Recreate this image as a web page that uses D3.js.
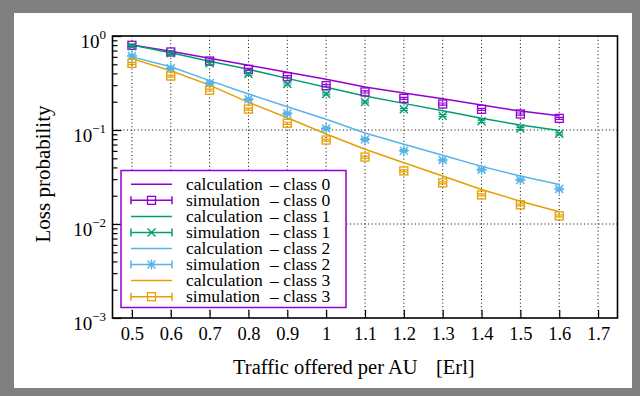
<!DOCTYPE html>
<html><head><meta charset="utf-8">
<script src="https://cdn.jsdelivr.net/npm/d3@7"></script>
<style>
html,body{margin:0;padding:0;background:#fff;}
svg{display:block;}
text{font-family:"Liberation Serif","Times New Roman",serif;fill:#000;}
</style></head>
<body>
<svg id="c" width="640" height="396"></svg>
<script>
// ---- data ----
const xValues = [0.5,0.6,0.7,0.8,0.9,1.0,1.1,1.2,1.3,1.4,1.5,1.6];
const xTicks = [0.5,0.6,0.7,0.8,0.9,1.0,1.1,1.2,1.3,1.4,1.5,1.6,1.7];
const xTickLabels = ["0.5","0.6","0.7","0.8","0.9","1","1.1","1.2","1.3","1.4","1.5","1.6","1.7"];
const yTicks = [1e-3,1e-2,1e-1,1];
const yTickExponents = ["−3","−2","−1","0"];
const classNames = ["class 0","class 1","class 2","class 3"];
const calc0 = [0.80,0.69,0.58,0.488,0.411,0.346,0.287,0.247,0.215,0.184,0.159,0.142];
const calc1 = [0.80,0.665,0.54,0.442,0.354,0.285,0.230,0.192,0.160,0.133,0.113,0.099];
const calc2 = [0.60,0.47,0.335,0.242,0.177,0.130,0.093,0.0706,0.0538,0.041,0.0324,0.0263];
const calc3 = [0.575,0.427,0.30,0.197,0.135,0.0906,0.0623,0.0448,0.0324,0.0233,0.0175,0.0135];
const sim0 = [0.796,0.676,0.542,0.442,0.369,0.296,0.254,0.217,0.189,0.166,0.148,0.133];
const sim1 = [0.78,0.654,0.512,0.394,0.309,0.242,0.199,0.166,0.142,0.124,0.104,0.091];
const sim2 = [0.613,0.453,0.314,0.212,0.150,0.104,0.0794,0.0603,0.0479,0.0377,0.0294,0.0235];
const sim3 = [0.512,0.375,0.265,0.167,0.118,0.0782,0.0515,0.0367,0.0274,0.0204,0.0160,0.0122];
const simErr = 0.025; // relative half-width of error bars
const colors = ["#9400D3","#009E73","#56B4E9","#E69F00"];
const markers = ["square","cross","star","square"];

const calcs = [calc0,calc1,calc2,calc3];
const sims = [sim0,sim1,sim2,sim3];

const svg = d3.select("#c");
// frame
svg.append("rect").attr("x",0).attr("y",0).attr("width",640).attr("height",396).attr("fill","#808080");
svg.append("rect").attr("x",14).attr("y",13).attr("width",618).attr("height",375).attr("fill","#fff");

const L=112.5,R=617.5,T=36,B=318;
const x = d3.scaleLinear().domain([0.45,1.75]).range([L,R]);
const y = d3.scaleLog().domain([1e-3,1]).range([B,T]);

// grid
const grid = svg.append("g").attr("stroke","#000").attr("stroke-width",1).attr("stroke-dasharray","1,2.6");
xTicks.forEach(v=>grid.append("line").attr("x1",x(v)).attr("x2",x(v)).attr("y1",B).attr("y2",T));
[1e-2,1e-1].forEach(v=>grid.append("line").attr("x1",L).attr("x2",R).attr("y1",y(v)).attr("y2",y(v)));

// axes
const xAxis = svg.append("g").attr("transform",`translate(0,${B})`)
  .call(d3.axisBottom(x).tickValues(xTicks).tickSize(-8).tickPadding(9).tickFormat((d,i)=>xTickLabels[i]));
xAxis.select(".domain").remove();
xAxis.selectAll("line").attr("stroke","#000").attr("stroke-width",1.2);
xAxis.selectAll("text").attr("font-size",18.5).attr("font-family","Liberation Serif").attr("fill","#000");

const minor=[];
for(let e=-3;e<0;e++) for(let k=2;k<=9;k++) minor.push(k*Math.pow(10,e));
const yMinor = svg.append("g").attr("transform",`translate(${L},0)`)
  .call(d3.axisLeft(y).tickValues(minor).tickSize(-5).tickFormat(""));
yMinor.select(".domain").remove();
yMinor.selectAll("line").attr("stroke","#000").attr("stroke-width",1.2);
const yAxis = svg.append("g").attr("transform",`translate(${L},0)`)
  .call(d3.axisLeft(y).tickValues(yTicks).tickSize(-9).tickFormat(""));
yAxis.select(".domain").remove();
yAxis.selectAll("line").attr("stroke","#000").attr("stroke-width",1.2);

// y labels with superscripts (right-aligned as one label)
yTicks.forEach((v,i)=>{
  const t = svg.append("text").attr("x",106).attr("y",y(v)+12).attr("text-anchor","end").attr("font-size",19);
  t.append("tspan").text("10");
  t.append("tspan").attr("dy",-9).attr("font-size",13).text(yTickExponents[i]);
});

// lines
const line = d3.line().x((d,i)=>x(xValues[i])).y(d=>y(d));
calcs.forEach((c,k)=>{
  svg.append("path").datum(c).attr("d",line).attr("fill","none").attr("stroke",colors[k]).attr("stroke-width",1.5);
});

function drawMarker(g,type,cx,cy,col){
  if(type==="square"){
    g.append("rect").attr("x",cx-4).attr("y",cy-4).attr("width",8).attr("height",8).attr("fill","none").attr("stroke",col).attr("stroke-width",1.3);
  } else if(type==="cross"){
    g.append("path").attr("d",`M${cx-4},${cy-4}L${cx+4},${cy+4}M${cx-4},${cy+4}L${cx+4},${cy-4}`).attr("stroke",col).attr("stroke-width",1.4);
  } else {
    g.append("path").attr("d",`M${cx-4},${cy-4}L${cx+4},${cy+4}M${cx-4},${cy+4}L${cx+4},${cy-4}M${cx-5},${cy}L${cx+5},${cy}M${cx},${cy-5}L${cx},${cy+5}`).attr("stroke",col).attr("stroke-width",1.4);
  }
}

// sims with error bars
sims.forEach((s,k)=>{
  const g = svg.append("g");
  s.forEach((v,i)=>{
    const cx = x(xValues[i]);
    const y1 = y(v*(1+simErr)), y2 = y(v*(1-simErr));
    g.append("path").attr("d",`M${cx},${y1}L${cx},${y2}M${cx-4},${y1}L${cx+4},${y1}M${cx-4},${y2}L${cx+4},${y2}`)
      .attr("stroke",colors[k]).attr("stroke-width",1.2).attr("fill","none");
    drawMarker(g,markers[k],cx,y(v),colors[k]);
  });
});

// border
svg.append("rect").attr("x",L).attr("y",T).attr("width",R-L).attr("height",B-T).attr("fill","none").attr("stroke","#000").attr("stroke-width",1.6);

// legend
const lg = svg.append("g");
lg.append("rect").attr("x",121).attr("y",170.5).attr("width",225).attr("height",137).attr("fill","#fff").attr("stroke","#9400D3").attr("stroke-width",1.5);
const entries=[];
classNames.forEach((c,k)=>{entries.push({name:"calculation",cls:c,k,sim:false});entries.push({name:"simulation",cls:c,k,sim:true});});
entries.forEach((e,i)=>{
  const cy = 184.3 + i*16.05;
  const col = colors[e.k];
  lg.append("line").attr("x1",131).attr("x2",172).attr("y1",cy).attr("y2",cy).attr("stroke",col).attr("stroke-width",1.5);
  if(e.sim){
    lg.append("path").attr("d",`M131,${cy-4}L131,${cy+4}M172,${cy-4}L172,${cy+4}`).attr("stroke",col).attr("stroke-width",1.5);
    drawMarker(lg,markers[e.k],151.5,cy,col);
  }
  const t = lg.append("text").attr("x",186).attr("y",cy+5.5).attr("font-size",17.5);
  t.append("tspan").text(e.name);
  t.append("tspan").attr("x",270).text("– "+e.cls);
});

// axis titles
const xt = svg.append("text").attr("x",233).attr("y",374).attr("font-size",20.5);
xt.append("tspan").text("Traffic offered per AU");
xt.append("tspan").attr("x",436).text("[Erl]");
svg.append("text").attr("transform","translate(50,174) rotate(-90)").attr("text-anchor","middle").attr("font-size",21).text("Loss probability");
</script>
</body></html>
